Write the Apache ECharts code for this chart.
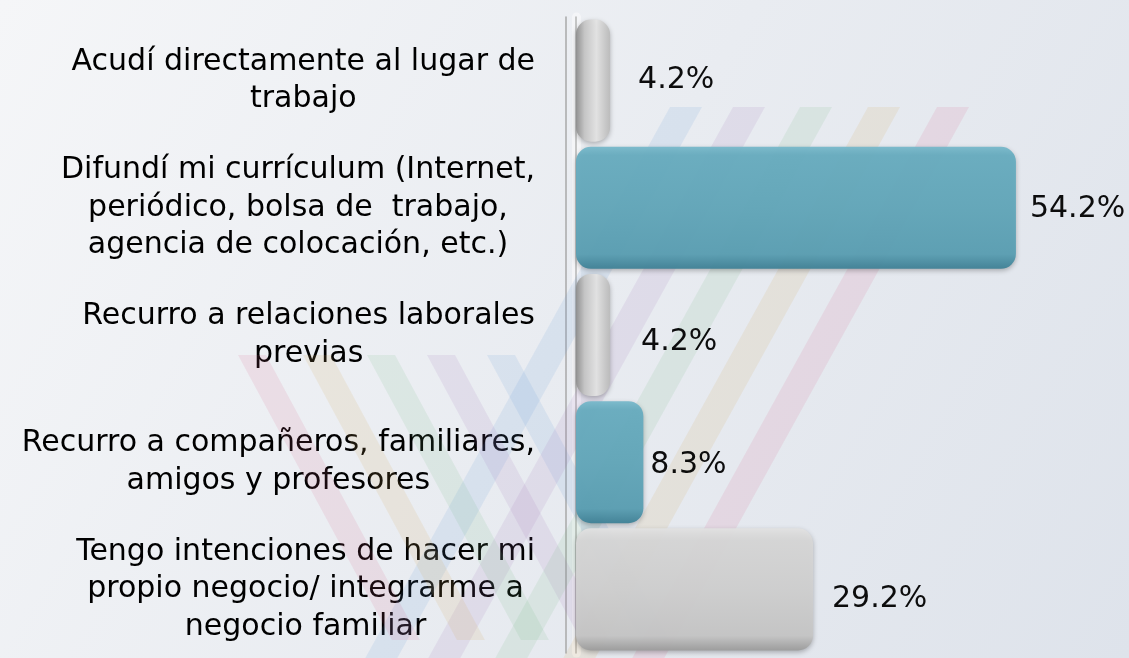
<!DOCTYPE html>
<html>
<head>
<meta charset="utf-8">
<script src="https://cdn.jsdelivr.net/npm/echarts@6/dist/echarts.min.js"></script>
<style>
  html, body { margin: 0; padding: 0; }
  #chart { width: 1129px; height: 658px; }
</style>
</head>
<body>
<div id="chart"></div>
<script>
// Ways used to look for a job (percent of respondents)
const categories = [
  'Acudí directamente al lugar de\ntrabajo',
  'Difundí mi currículum (Internet,\nperiódico, bolsa de  trabajo,\nagencia de colocación, etc.)',
  'Recurro a relaciones laborales\nprevias',
  'Recurro a compañeros, familiares,\namigos y profesores',
  'Tengo intenciones de hacer mi\npropio negocio/ integrarme a\nnegocio familiar'
];
const values = [4.2, 54.2, 4.2, 8.3, 29.2];

// Presentation settings per bar
const barTones = ['gray', 'teal', 'gray', 'teal', 'gray'];
const labelGaps = [28, 14, 31, 7, 19];
const labelShiftY = [0, 1, 7, 3, 10];

const FONT = 'DejaVu Sans';
const FONT_SIZE = 30;

const G = echarts.graphic.LinearGradient;
function barFill(tone, thin) {
  if (tone === 'teal') {
    return new G(0, 0, 0, 1, [
      { offset: 0, color: '#78b9cb' },
      { offset: 0.07, color: '#68adc0' },
      { offset: 0.5, color: '#62a7ba' },
      { offset: 0.88, color: '#5a9fb3' },
      { offset: 1, color: '#3f8196' }
    ]);
  }
  if (thin) {
    return new G(0, 0, 1, 0, [
      { offset: 0, color: '#8e8e8e' },
      { offset: 0.25, color: '#c6c6c6' },
      { offset: 0.6, color: '#e4e4e4' },
      { offset: 1, color: '#bbbbbb' }
    ]);
  }
  return new G(0, 0, 0, 1, [
    { offset: 0, color: '#e2e2e2' },
    { offset: 0.1, color: '#d7d7d7' },
    { offset: 0.5, color: '#d0d0d0' },
    { offset: 0.88, color: '#c6c6c6' },
    { offset: 1, color: '#9c9c9c' }
  ]);
}

const barData = values.map((v, i) => ({
  value: v,
  itemStyle: {
    color: barFill(barTones[i], v < 6),
    opacity: 0.95,
    borderRadius: 15,
    shadowBlur: 5,
    shadowOffsetY: 2,
    shadowColor: 'rgba(0,0,0,0.28)'
  },
  label: { distance: labelGaps[i], offset: [0, labelShiftY[i]] }
}));

// Faint striped backdrop emblem
const stripeColors = ['rgba(90,150,210,0.12)', 'rgba(160,110,185,0.12)', 'rgba(110,185,125,0.12)', 'rgba(215,170,95,0.14)', 'rgba(215,90,135,0.12)'];
const rightArmX = [670, 733, 800, 868, 937];
const leftArmX = [487, 427, 367, 303, 238];
const stripes = [];
function stripe(x0, y0, w, slope, y1, color) {
  const dx = slope * (y1 - y0);
  stripes.push({
    type: 'polygon', silent: true, z: 1,
    shape: { points: [[x0, y0], [x0 + w, y0], [x0 + w + dx, y1], [x0 + dx, y1]] },
    style: { fill: color }
  });
}
for (let i = 0; i < 5; i++) {
  stripe(rightArmX[i], 107, 32, -0.553, 658, stripeColors[i]);
  stripe(leftArmX[i], 355, 28, 0.54, 640, stripeColors[i]);
}

const chart = echarts.init(document.getElementById('chart'));
chart.setOption({
  backgroundColor: new G(0, 0, 1, 1, [
    { offset: 0, color: '#f5f6f8' },
    { offset: 0.5, color: '#e9ecf1' },
    { offset: 1, color: '#dee3eb' }
  ]),
  animation: false,
  graphic: stripes,
  grid: { left: 576, right: 66, top: 17, bottom: 5 },
  xAxis: {
    type: 'value', min: 0, max: 60, show: false
  },
  yAxis: [
    {
      // pale face of the axis wall
      type: 'category', position: 'left', inverse: true, data: categories, offset: 5,
      axisLine: { show: true, lineStyle: { color: 'rgba(248,248,249,0.7)', width: 9 } },
      axisTick: { show: false }, axisLabel: { show: false }
    },
    {
      type: 'category', position: 'left', inverse: true, data: categories, offset: 10,
      axisLine: { show: true, lineStyle: { color: '#a9a9a9', width: 1.5 } },
      axisTick: { show: false },
      axisLabel: {
        margin: 31,
        color: '#000',
        fontFamily: FONT,
        fontSize: FONT_SIZE,
        lineHeight: 37.5,
        formatter: (v) => v.split('\n').map(s => '{c|' + s + '}').join('\n'),
        rich: { c: { align: 'center', fontFamily: FONT, fontSize: FONT_SIZE, lineHeight: 37.5, color: '#000' } }
      }
    },
    {
      type: 'category', position: 'left', inverse: true, data: categories, offset: 0,
      axisLine: { show: true, lineStyle: { color: '#b4b4b4', width: 1.5 } },
      axisTick: { show: false }, axisLabel: { show: false }
    }
  ],
  series: [{
    type: 'bar',
    yAxisIndex: 1,
    data: barData,
    barCategoryGap: '4%',
    label: {
      show: true,
      position: 'right',
      color: '#000',
      fontFamily: FONT,
      fontSize: FONT_SIZE,
      formatter: '{c}%'
    }
  }]
});
</script>
</body>
</html>
